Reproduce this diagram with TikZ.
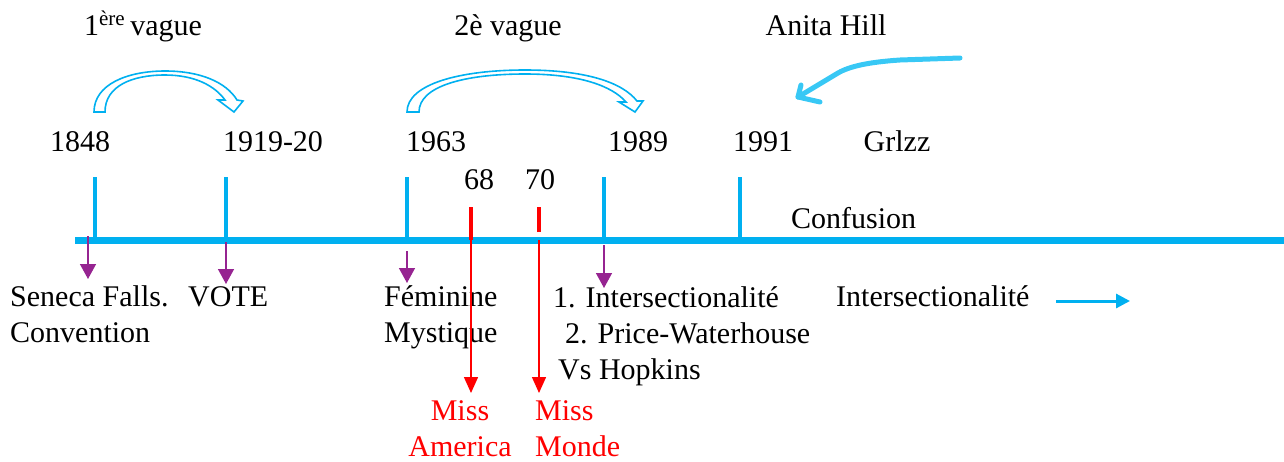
\documentclass[tikz,border=0pt]{standalone}
\usepackage{fontspec}
\setmainfont{Liberation Serif}
\usetikzlibrary{arrows.meta,positioning,calc}
\definecolor{tlblue}{RGB}{0,176,240}
\definecolor{hillblue}{RGB}{56,200,245}
\definecolor{tlpurple}{RGB}{150,36,145}
\definecolor{tlred}{RGB}{255,0,0}

\begin{document}
\begin{tikzpicture}[x=1pt,y=-1pt,
    txt/.style={inner sep=0, font=\fontsize{30}{36}\selectfont, align=left},
    tickline/.style={draw=tlblue, line width=4pt},
    redtick/.style={draw=tlred, line width=4.5pt},
    down/.style={draw=tlpurple, line width=1.5pt, -{Triangle[width=16pt,length=15pt]}},
    reddown/.style={draw=tlred, line width=1.5pt, -{Triangle[width=14pt,length=16pt]}},
    wave/.style={draw=tlblue, line width=1.6pt, fill=white, line join=miter}]
  \useasboundingbox (0,0) rectangle (1284,461);

  % timeline
  \coordinate (start) at (75,240.5);
  \coordinate (end) at (1284,240.5);
  \draw[tlblue, line width=7pt] (start) -- (end);
  \foreach \name/\x in {t1848/95, t1919/226, t1963/407, t1989/604, t1991/740} {
    \coordinate (\name) at (\x,240);
    \draw[tickline] (\name) -- ++(0,-63);
  }
  \coordinate (t68) at (471,240);
  \coordinate (t70) at (539,240);
  \draw[redtick] (t68) -- ++(0,-33);
  \draw[redtick] (t70) ++(0,-8) -- ++(0,-25);

  % waves
  \node[txt, anchor=base] (wave1) at (143,35) {1\textsuperscript{ère}\,vague};
  \node[txt, anchor=base] (wave2) at (508,35) {2è vague};
  \node[txt, anchor=base] (hill) at (826,35) {Anita Hill};
  \draw[wave] (94,112) .. controls (94,84) and (128,71) .. (165,71)
    .. controls (200,71) and (226,82) .. (237,100) -- (243,101) -- (234,112)
    -- (218,100) -- (225,100) .. controls (215,86) and (195,75) .. (165,75)
    .. controls (132,75) and (105,86) .. (105,112) -- cycle;
  \draw[wave] (407,112) .. controls (407,84) and (460,70) .. (525,70)
    .. controls (585,70) and (622,82) .. (637,101) -- (643,101) -- (635,112)
    -- (619,102) -- (626,102) .. controls (612,86) and (580,74) .. (525,74)
    .. controls (465,74) and (419,86) .. (419,112) -- cycle;
  \coordinate (hillstart) at (960,58);
  \coordinate (hilltip) at (798,97);
  \draw[hillblue, line width=5pt, line cap=round, line join=round]
    (hillstart) -- (900,60) .. controls (870,62) and (850,66) .. (838,73) -- (hilltip);
  \draw[hillblue, line width=5pt, line cap=round, line join=round]
    ($(hilltip)+(3,-12)$) -- (hilltip) -- ++(22,5);

  % years
  \node[txt, anchor=base] (y1848) at (80,151) {1848};
  \node[txt, anchor=base] (y1919) at (273,151) {1919-20};
  \node[txt, anchor=base] (y1963) at (436,151) {1963};
  \node[txt, anchor=base] (y1989) at (638,151) {1989};
  \node[txt, anchor=base] (y1991) at (763,151) {1991};
  \node[txt, anchor=base] (grlzz) at (897,151) {Grlzz};
  \node[txt, anchor=base] (y68) at (479,189) {68};
  \node[txt, anchor=base] (y70) at (540,189) {70};
  \node[txt, anchor=base west] (confusion) at (791,228) {Confusion};

  % events (base = last line)
  \node[txt, anchor=base west] (seneca) at (10,342) {Seneca Falls.\\Convention};
  \node[txt, anchor=base west] (vote) at (188,306) {VOTE};
  \node[txt, anchor=base west] (feminine) at (384,342) {Féminine\\Mystique};
  \node[txt, anchor=base west] (hopkins) at (553,379)
    {1. Intersectionalité\\\hspace*{12pt}2. Price-Waterhouse\\\hspace*{5pt}Vs Hopkins};
  \node[txt, anchor=base west] (inter) at (836,306) {Intersectionalité};
  \node[txt, anchor=base, align=center, text=tlred] (america) at (460,456) {Miss\\America};
  \node[txt, anchor=base west, text=tlred] (monde) at (535,456) {Miss\\Monde};

  \coordinate (s1848) at (88,236);
  \coordinate (s1919) at (226,242);
  \coordinate (s1963) at (407,251);
  \coordinate (s1989) at (604,245);
  \draw[down] (s1848) -- (s1848 |- 0,279);
  \draw[down] (s1919) -- (s1919 |- 0,284);
  \draw[down] (s1963) -- (s1963 |- 0,283);
  \draw[down] (s1989) -- (s1989 |- 0,288);
  \draw[reddown] (t68) -- (t68 |- 0,393);
  \draw[reddown] (t70) -- (t70 |- 0,393);

  \coordinate (more) at (1130,301);
  \draw[tlblue, line width=3pt, -{Triangle[width=14pt,length=14pt]}] (more -| 1056,0) -- (more);
\end{tikzpicture}
\end{document}
